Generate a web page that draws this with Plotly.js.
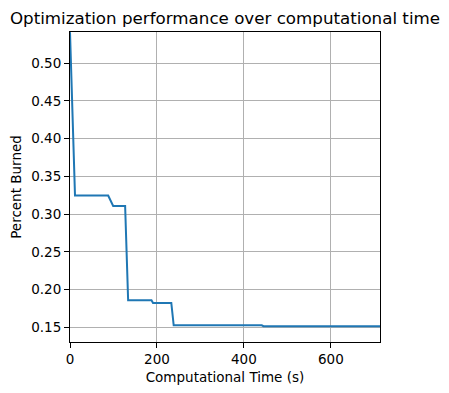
<!DOCTYPE html>
<html>
<head>
<meta charset="utf-8">
<script src="https://cdn.plot.ly/plotly-3.0.1.min.js"></script>
<style>html,body{margin:0;padding:0;background:#fff;}#chart{width:449px;height:393px;}</style>
</head>
<body>
<div id="chart"></div>
<script>
const timeSeconds = [0, 11.5, 87.8, 99.3, 126.8, 133.7, 187.4, 191, 233, 238.5, 441, 445, 713];
const percentBurned = [0.541, 0.3246, 0.3246, 0.3108, 0.3108, 0.1858, 0.1858, 0.1822, 0.1822, 0.1527, 0.1527, 0.1515, 0.1515];
const xTicks = [0, 200, 400, 600];
const yTicks = [0.15, 0.20, 0.25, 0.30, 0.35, 0.40, 0.45, 0.50];

const font = "DejaVu Sans, sans-serif";
const trace = {
  x: timeSeconds, y: percentBurned, type: 'scatter', mode: 'lines',
  line: {color: '#1f77b4', width: 2}, hoverinfo: 'skip'
};
const axisCommon = {
  showline: true, mirror: true, linecolor: '#000', linewidth: 1,
  ticks: 'outside', ticklen: 5, tickwidth: 1, tickcolor: '#000',
  showgrid: true, gridcolor: '#b0b0b0', gridwidth: 1, zeroline: false,
  tickfont: {family: font, size: 13.5, color: '#000'}
};
const layout = {
  width: 449, height: 393,
  margin: {l: 70, r: 69, t: 32, b: 51},
  paper_bgcolor: '#fff', plot_bgcolor: '#fff',
  showlegend: false,
  title: {text: 'Optimization performance over computational time', font: {family: font, size: 16.7, color: '#000'},
          x: 0.5, xanchor: 'center', xref: 'paper', y: 1 - 18/393, yanchor: 'middle', yref: 'container'},
  xaxis: Object.assign({}, axisCommon, {
    range: [0, 713], tickvals: xTicks, ticktext: xTicks.map(String),
    title: {text: 'Computational Time (s)', font: {family: font, size: 13.5, color: '#000'}, standoff: 6}
  }),
  yaxis: Object.assign({}, axisCommon, {
    range: [0.1305, 0.5412], tickvals: yTicks, ticktext: yTicks.map(v => v.toFixed(2)),
    title: {text: 'Percent Burned', font: {family: font, size: 13.5, color: '#000'}, standoff: 6}
  })
};
Plotly.newPlot('chart', [trace], layout, {staticPlot: true, displayModeBar: false});
</script>
</body>
</html>
